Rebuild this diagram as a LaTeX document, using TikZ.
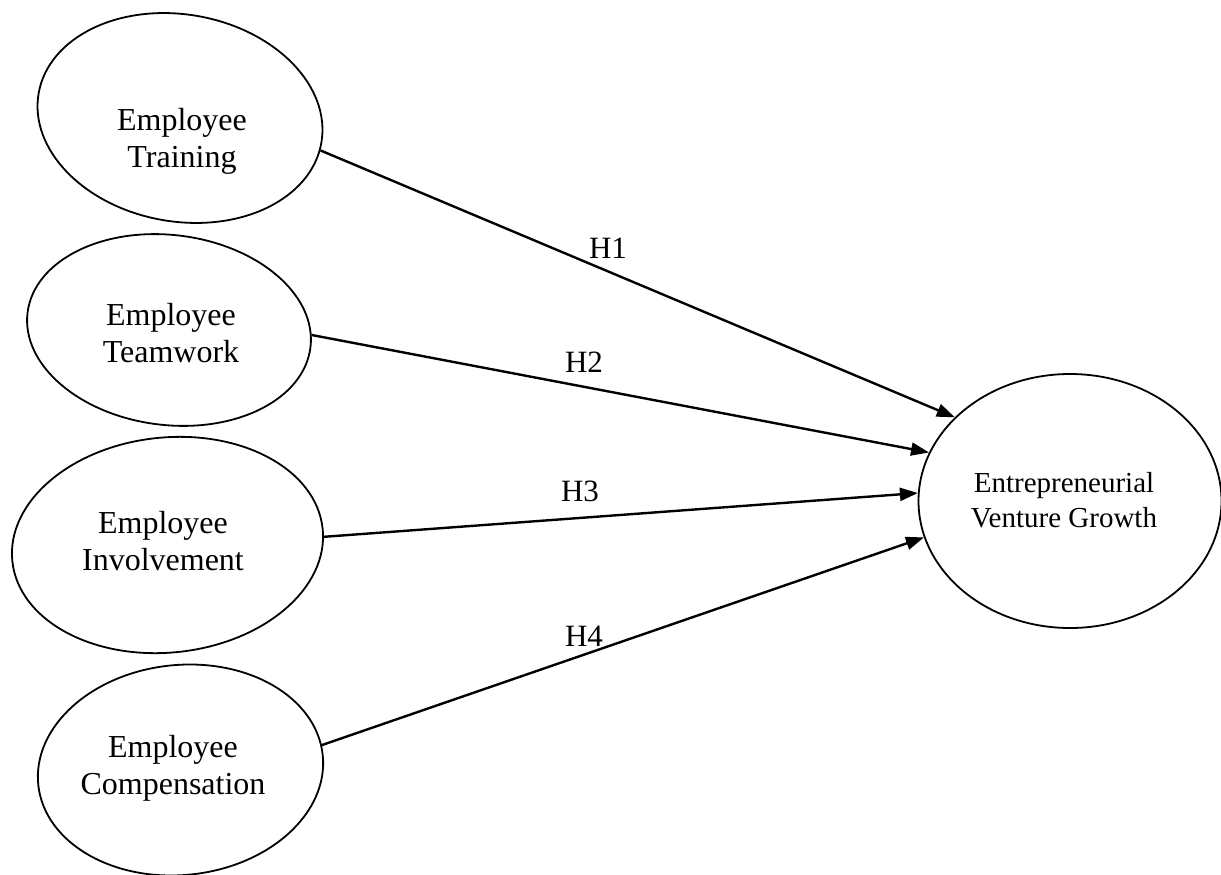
\documentclass[tikz,border=0pt]{standalone}
\usepackage{fontspec}
\setmainfont{Liberation Serif}
\usetikzlibrary{shapes.geometric,arrows.meta}
\begin{document}
\begin{tikzpicture}[x=1pt,y=1pt,
  oval/.style={draw, ellipse, line width=1.8pt, inner sep=0pt},
  otext/.style={inner sep=0pt, align=center, anchor=north, font=\fontsize{32}{37}\selectfont},
  hlab/.style={inner sep=0pt, font=\fontsize{31}{36}\selectfont},
  link/.style={line width=2.4pt, -{Triangle[length=18pt,width=13pt]}}]
\useasboundingbox (0,0) rectangle (1221,-875);
% ellipses
\node[oval, minimum width=287pt, minimum height=207pt, rotate=-10] (e1) at (180,-118) {};
\node[oval, minimum width=285pt, minimum height=190pt, rotate=-7] (e2) at (169,-330) {};
\node[oval, minimum width=312pt, minimum height=215pt, rotate=6] (e3) at (167.5,-545) {};
\node[oval, minimum width=286pt, minimum height=210pt, rotate=6] (e4) at (180.5,-770) {};
\node[oval, minimum width=303pt, minimum height=254pt] (e5) at (1070,-501) {};
% texts
\node[otext] (t1) at (182,-108) {Employee\\Training};
\node[otext] (t2) at (171,-303) {Employee\\Teamwork};
\node[otext] (t3) at (163,-511) {Employee\\Involvement};
\node[otext] (t4) at (173,-735) {Employee\\Compensation};
\node[otext, font=\fontsize{29}{35}\selectfont] (t5) at (1064,-472) {Entrepreneurial\\Venture Growth};
% connectors
\draw[link] (e1.357) -- (e5.144.6);
\draw[link] (e2.5.4) -- (e5.161.7);
\draw[link] (e3.357.3) -- (e5.177.7);
\draw[link] (e4.4.6) -- (e5.194.5);
% labels
\node[hlab] (h1) at (608,-248) {H1};
\node[hlab] (h2) at (584,-362) {H2};
\node[hlab] (h3) at (580,-491) {H3};
\node[hlab] (h4) at (584,-636) {H4};
\end{tikzpicture}
\end{document}
